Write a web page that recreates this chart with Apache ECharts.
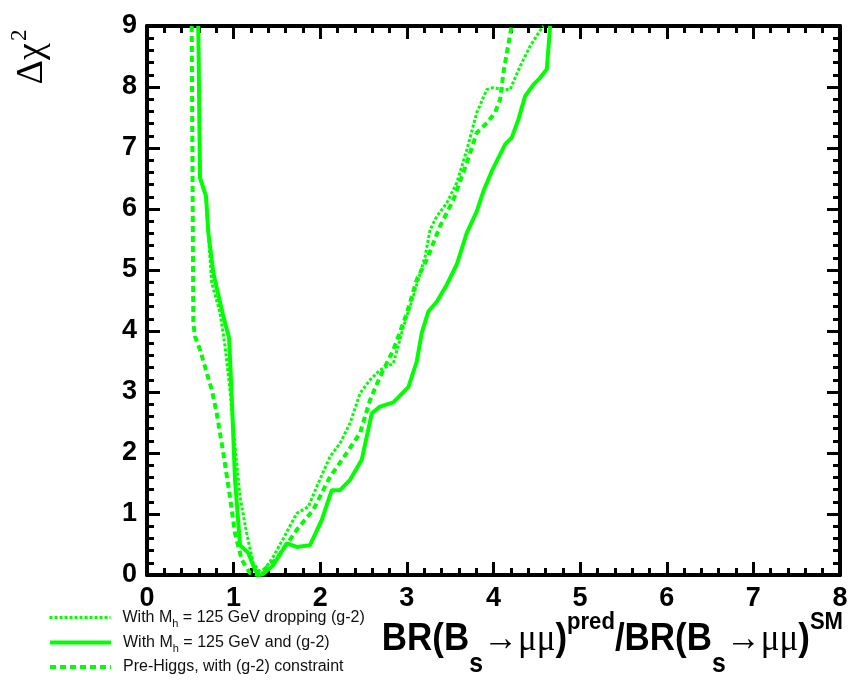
<!DOCTYPE html>
<html><head><meta charset="utf-8">
<script src="https://cdn.jsdelivr.net/npm/echarts@6/dist/echarts.min.js"></script>
<style>html,body{margin:0;padding:0;background:#fff}#c{width:851px;height:682px}</style>
</head><body><div id="c"></div>
<script>
// ---- axis ranges ----
const xRange = [0, 8], xStep = 1;
const yRange = [0, 9], yStep = 1;

// ---- series names (legend order) ----
const seriesNames = [
  'With M_h = 125 GeV dropping (g-2)',
  'With M_h = 125 GeV and (g-2)',
  'Pre-Higgs, with (g-2) constraint'
];

// ---- dotted: With Mh = 125 GeV dropping (g-2) ----
const droppingX = [0.592,0.612,0.681,0.708,0.747,0.843,0.901,0.958,1.016,1.074,1.151,1.227,1.324,1.458,1.574,1.729,1.863,1.960,2.113,2.229,2.344,2.460,2.575,2.690,2.844,2.960,3.075,3.210,3.268,3.345,3.461,3.576,3.692,3.807,3.923,3.999,4.096,4.192,4.307,4.423,4.558,4.575];
const droppingY = [9.00,6.51,6.21,5.61,4.79,4.30,3.75,3.04,2.11,1.28,0.68,0.19,0.02,0.30,0.60,1.01,1.12,1.45,1.94,2.16,2.49,2.98,3.20,3.36,3.47,4.07,4.57,5.22,5.66,5.88,6.10,6.43,6.97,7.58,7.96,7.99,7.96,7.96,8.34,8.67,8.97,9.00];

// ---- solid: With Mh = 125 GeV and (g-2) ----
const withG2X = [0.592,0.612,0.681,0.708,0.766,0.881,0.947,0.978,1.016,1.074,1.170,1.247,1.300,1.343,1.458,1.613,1.729,1.882,2.017,2.133,2.229,2.344,2.479,2.595,2.690,2.844,3.017,3.114,3.172,3.248,3.345,3.461,3.576,3.692,3.807,3.883,3.980,4.134,4.211,4.288,4.365,4.461,4.538,4.615,4.654];
const withG2Y = [9.00,6.51,6.21,5.61,4.95,4.24,3.89,2.93,1.56,0.49,0.36,0.08,0.00,0.02,0.16,0.52,0.46,0.49,0.90,1.39,1.39,1.56,1.89,2.65,2.76,2.83,3.08,3.50,3.97,4.32,4.48,4.76,5.09,5.61,5.96,6.29,6.62,7.06,7.17,7.47,7.85,8.04,8.15,8.29,9.00];

// ---- dashed: Pre-Higgs, with (g-2) constraint ----
const preHiggsX = [0.516,0.535,0.554,0.612,0.747,0.805,0.881,0.958,1.016,1.094,1.189,1.280,1.498,1.729,1.920,2.113,2.306,2.460,2.575,2.690,2.844,2.999,3.114,3.230,3.383,3.537,3.692,3.807,3.923,4.018,4.076,4.114,4.154,4.210];
const preHiggsY = [9.00,4.13,3.91,3.69,3.04,2.65,2.00,1.28,0.68,0.25,0.03,0.00,0.27,0.74,1.07,1.61,2.00,2.33,2.87,3.25,3.69,4.29,4.84,5.17,5.72,6.15,6.76,7.25,7.41,7.58,7.79,8.23,8.56,9.00];

const GREEN = '#00ff00';
const SANS = '"Liberation Sans",Arial,sans-serif';
const SERIF = '"Liberation Serif","DejaVu Serif",serif';

const zip = (xs, ys) => xs.map((x, i) => [x, ys[i]]);

function axis(pos, range, step, showLabel) {
  return {
    type: 'value', position: pos, min: range[0], max: range[1], interval: step,
    axisLine: { show: true, onZero: false, lineStyle: { color: '#000', width: 4 } },
    axisTick: { show: true, inside: true, length: 13, lineStyle: { color: '#000', width: 3 } },
    minorTick: { show: true, splitNumber: 5, length: 7, lineStyle: { color: '#000', width: 3 } },
    splitLine: { show: false }, minorSplitLine: { show: false },
    axisLabel: { show: showLabel, color: '#000', fontFamily: SANS, fontWeight: 'bold', fontSize: 27, margin: 10 }
  };
}

const legendRich = {
  t0: { fontFamily: SANS, fontSize: 16, color: '#111', lineHeight: 16, padding: [0, 0, 0, 7] },
  t: { fontFamily: SANS, fontSize: 16, color: '#111', lineHeight: 16 },
  s: { fontFamily: SANS, fontSize: 11, color: '#111', lineHeight: 16, padding: [12, 0, 0, 0] }
};
function legendFormatter(name) {
  if (name.indexOf('M_h') >= 0) {
    const parts = name.split('M_h');
    return '{t0|' + parts[0] + 'M}{s|h}{t|' + parts[1] + '}';
  }
  return '{t0|' + name + '}';
}
const legendTops = [606, 631, 659];
const legendWidths = [3, 4, 4];
const legends = seriesNames.map((n, i) => ({
  orient: 'vertical', left: 48, top: legendTops[i], padding: 0, itemWidth: 61, itemHeight: 16, itemGap: 0,
  data: [n], selectedMode: false,
  itemStyle: { opacity: 0 },
  lineStyle: { width: legendWidths[i] },
  textStyle: { rich: legendRich },
  formatter: legendFormatter
}));

const chart = echarts.init(document.getElementById('c'), null, { renderer: 'canvas' });
chart.setOption({
  animation: false,
  backgroundColor: '#fff',
  grid: { left: 147, right: 11, top: 26, bottom: 107, containLabel: false },
  xAxis: [axis('bottom', xRange, xStep, true), axis('top', xRange, xStep, false)],
  yAxis: [axis('left', yRange, yStep, true), axis('right', yRange, yStep, false)],
  legend: legends,
  series: [
    { name: seriesNames[0], type: 'line', data: zip(droppingX, droppingY), showSymbol: false, symbol: 'none',
      lineStyle: { color: GREEN, width: 3, type: [3, 2] }, itemStyle: { color: GREEN }, clip: true, z: 3 },
    { name: seriesNames[1], type: 'line', data: zip(withG2X, withG2Y), showSymbol: false, symbol: 'none',
      lineStyle: { color: GREEN, width: 4, type: 'solid' }, itemStyle: { color: GREEN }, clip: true, z: 2 },
    { name: seriesNames[2], type: 'line', data: zip(preHiggsX, preHiggsY), showSymbol: false, symbol: 'none',
      lineStyle: { color: GREEN, width: 4, type: [6, 4] }, itemStyle: { color: GREEN }, clip: true, z: 4 }
  ],
  graphic: [
    {
      type: 'text', x: 32, y: 57, rotation: Math.PI / 2,
      style: {
        text: '{m|Δχ}{p|2}', align: 'center', verticalAlign: 'middle',
        rich: {
          m: { fontFamily: SERIF, fontSize: 38, fill: '#000', lineHeight: 42 },
          p: { fontFamily: SERIF, fontSize: 23, fill: '#000', lineHeight: 42, padding: [0, 0, 24, 2] }
        }
      }
    },
    {
      type: 'text', x: 843, y: 640, scaleX: 0.92,
      style: {
        text: '{b|BR(B}{s|s}{y|→μμ}{b|)}{p|pred}{b|/BR(B}{s|s}{y|→μμ}{b|)}{p|SM}',
        align: 'right', verticalAlign: 'middle',
        rich: {
          b: { fontFamily: SANS, fontWeight: 'bold', fontSize: 38, fill: '#000', lineHeight: 46 },
          s: { fontFamily: SANS, fontWeight: 'bold', fontSize: 27, fill: '#000', lineHeight: 46, padding: [50, 0, 0, 0] },
          y: { fontFamily: SERIF, fontSize: 38, fill: '#000', lineHeight: 46 },
          p: { fontFamily: SANS, fontWeight: 'bold', fontSize: 24, fill: '#000', lineHeight: 46, padding: [0, 0, 36, 0] }
        }
      }
    }
  ]
});
</script></body></html>
